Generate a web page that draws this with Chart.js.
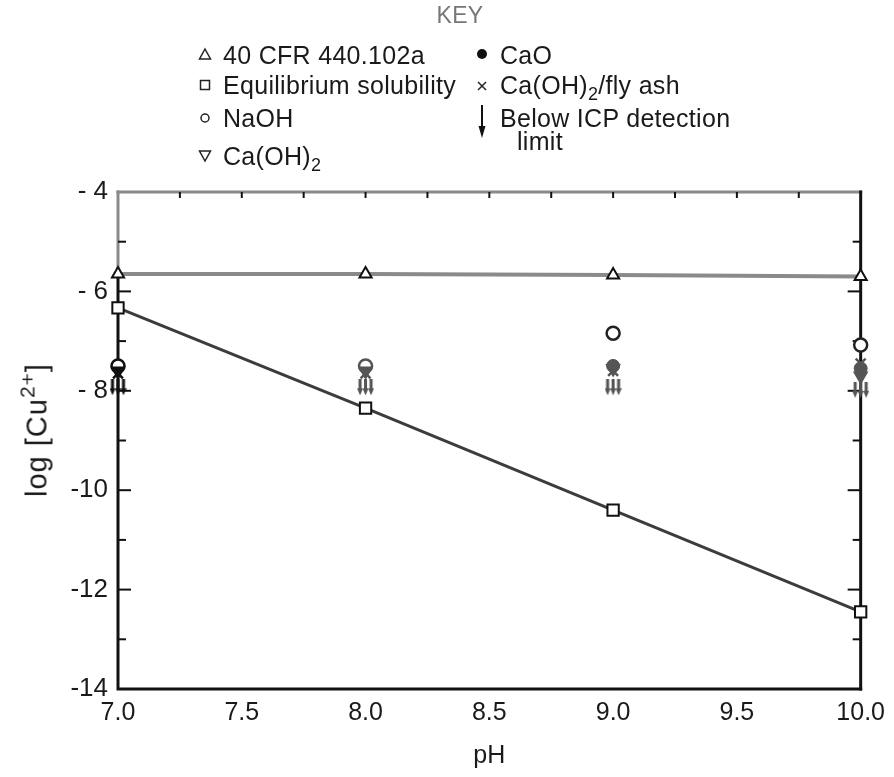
<!DOCTYPE html>
<html>
<head>
<meta charset="utf-8">
<script src="https://cdn.jsdelivr.net/npm/chart.js@4.4.0/dist/chart.umd.min.js"></script>
<style>
body { margin: 0; background: #fff; }
#wrap { position: relative; width: 894px; height: 777px; font-family: "Liberation Sans", Arial, sans-serif; color: #1a1a1a; }
#c { position: absolute; left: 0; top: 0; }
.t { position: absolute; font-size: 25px; line-height: 1; white-space: nowrap; letter-spacing: 0.3px; }
.t sub { font-size: 18px; vertical-align: -6px; line-height: 0; }
.s { position: absolute; }
#ytitle { position: absolute; left: 37px; top: 430px; font-size: 29px; line-height: 1; white-space: nowrap; letter-spacing: 1px;
  transform: translate(-50%, -50%) rotate(-90deg); }
#ytitle sup { font-size: 21px; vertical-align: 12px; line-height: 0; }
</style>
</head>
<body>
<div id="wrap">
  <canvas id="c" width="894" height="777"></canvas>

  <div class="t" style="left:460px;top:4px;transform:translateX(-50%);color:#777;font-size:23px">KEY</div>

  <svg class="s" style="left:198px;top:47px" width="14" height="14"><polygon points="7,2 12.5,12 1.5,12" fill="none" stroke="#222" stroke-width="1.5"/></svg>
  <div class="t" style="left:223px;top:43px">40 CFR 440.102a</div>
  <svg class="s" style="left:198px;top:78px" width="14" height="14"><rect x="2.5" y="2.5" width="9" height="9" fill="none" stroke="#222" stroke-width="1.5"/></svg>
  <div class="t" style="left:223px;top:73px">Equilibrium solubility</div>
  <svg class="s" style="left:198px;top:111px" width="14" height="14"><circle cx="7" cy="7" r="4" fill="none" stroke="#222" stroke-width="1.5"/></svg>
  <div class="t" style="left:223px;top:106px">NaOH</div>
  <svg class="s" style="left:198px;top:149px" width="14" height="14"><polygon points="1.5,2 12.5,2 7,12" fill="none" stroke="#222" stroke-width="1.5"/></svg>
  <div class="t" style="left:223px;top:144px">Ca(OH)<sub>2</sub></div>

  <svg class="s" style="left:475px;top:47px" width="14" height="14"><circle cx="7" cy="7" r="5" fill="#111"/></svg>
  <div class="t" style="left:500px;top:43px">CaO</div>
  <svg class="s" style="left:475px;top:79px" width="14" height="14"><path d="M3,3 L11,11 M11,3 L3,11" stroke="#222" stroke-width="1.5"/></svg>
  <div class="t" style="left:500px;top:73px">Ca(OH)<sub>2</sub>/fly ash</div>
  <svg class="s" style="left:475px;top:104px" width="14" height="36"><path d="M7,1 L7,26" stroke="#111" stroke-width="2"/><polygon points="3.5,22 10.5,22 7,34" fill="#111"/></svg>
  <div class="t" style="left:500px;top:106px">Below ICP detection</div>
  <div class="t" style="left:517px;top:129px">limit</div>

  <div id="ytitle">log [Cu<sup>2+</sup>]</div>
</div>

<script>
// pH values where samples were taken
var pH = [7.0, 8.0, 9.0, 10.0];

// log [Cu2+]
var cfrLimit = [-5.65, -5.65, -5.67, -5.70];
var equilibrium = [-6.33, -8.35, -10.40, -12.45];
var naoh = [-7.50, -7.50, -6.84, -7.08];
var caoh2 = [-7.60, -7.60, -7.55, -7.70];
var cao = [-7.50, -7.50, -7.50, -7.55];
var flyAsh = [-7.65, -7.65, -7.60, -7.45];
var belowLimit = [-7.93, -7.93, -7.93, -7.98];

var yTicks = [-4, -6, -8, -10, -12, -14];
var yTickLabels = ['- 4', '- 6', '- 8', '-10', '-12', '-14'];
var xTicks = [7.0, 7.5, 8.0, 8.5, 9.0, 9.5, 10.0];
var xTickLabels = ['7.0', '7.5', '8.0', '8.5', '9.0', '9.5', '10.0'];

function pts(ys) {
    return pH.map(function(x, i) { return { x: x, y: ys[i] }; });
}

// a small bundle of down arrows, as in the figure
function arrowsImg(color) {
    var c = document.createElement('canvas');
    c.width = 17; c.height = 16;
    var g = c.getContext('2d');
    g.strokeStyle = color; g.fillStyle = color; g.lineWidth = 3;
    [3, 8.5, 14].forEach(function(x) {
        g.beginPath(); g.moveTo(x, 0); g.lineTo(x, 11); g.stroke();
        g.beginPath(); g.moveTo(x - 3, 9); g.lineTo(x + 3, 9); g.lineTo(x, 16); g.closePath(); g.fill();
    });
    return c;
}
var arrowDark = arrowsImg('#111');
var arrowGray = arrowsImg('#555');
var clusterCol = ['#111', '#555', '#555', '#555'];

// frame with inward ticks
var frame = {
    id: 'frame',
    beforeDatasetsDraw: function(chart) {
        var a = chart.chartArea, g = chart.ctx;
        var xs = chart.scales.x, ys = chart.scales.y;
        g.save();
        g.lineCap = 'square';
        g.lineWidth = 3;
        g.strokeStyle = '#8a8a8a';
        g.beginPath(); g.moveTo(a.left, a.top); g.lineTo(a.right, a.top); g.stroke();
        g.beginPath(); g.moveTo(a.left, a.top); g.lineTo(a.left, ys.getPixelForValue(-5.6)); g.stroke();
        g.strokeStyle = '#111';
        g.beginPath(); g.moveTo(a.left, ys.getPixelForValue(-5.6)); g.lineTo(a.left, a.bottom); g.lineTo(a.right, a.bottom); g.stroke();
        g.beginPath(); g.moveTo(a.right, a.top); g.lineTo(a.right, a.bottom); g.stroke();
        g.lineWidth = 2;
        g.lineCap = 'butt';
        for (var v = -5; v >= -13; v--) {
            var py = ys.getPixelForValue(v);
            var len = (v % 2 === 0) ? 13 : 8;
            g.beginPath(); g.moveTo(a.left, py); g.lineTo(a.left + len, py); g.stroke();
            g.beginPath(); g.moveTo(a.right, py); g.lineTo(a.right - len, py); g.stroke();
        }
        for (var t = 7.25; t < 10; t += 0.25) {
            var px = xs.getPixelForValue(t);
            g.beginPath(); g.moveTo(px, a.top); g.lineTo(px, a.top + 6); g.stroke();
        }
        g.restore();
    }
};

var ctx = document.getElementById('c').getContext('2d');
var chart = new Chart(ctx, {
    type: 'scatter',
    data: {
        datasets: [
            {
                label: 'Below ICP detection limit', data: pts(belowLimit),
                pointStyle: [arrowDark, arrowGray, arrowGray, arrowGray], pointRadius: 8, showLine: false, clip: false
            },
            {
                label: 'Ca(OH)2/fly ash', data: pts(flyAsh), pointStyle: 'crossRot', pointRadius: 7,
                pointBorderColor: clusterCol, pointBorderWidth: 2.5, showLine: false, clip: false
            },
            {
                label: 'Ca(OH)2', data: pts(caoh2), pointStyle: 'triangle', rotation: 180, pointRadius: 7,
                pointBackgroundColor: clusterCol, pointBorderColor: clusterCol, pointBorderWidth: 2, showLine: false, clip: false
            },
            {
                label: 'NaOH', data: pts(naoh), pointStyle: 'circle', pointRadius: 6.5,
                pointBackgroundColor: '#fff', pointBorderColor: ['#111', '#555', '#222', '#222'], pointBorderWidth: 2.5,
                showLine: false, clip: false
            },
            {
                label: 'CaO', data: pts(cao), pointStyle: 'circle', pointRadius: 6.5,
                pointBackgroundColor: clusterCol, pointBorderColor: clusterCol, pointBorderWidth: 1, showLine: false, clip: false
            },
            {
                label: '40 CFR 440.102a', data: pts(cfrLimit), showLine: true,
                borderColor: '#8a8a8a', borderWidth: 4, pointStyle: 'triangle', pointRadius: 7,
                pointBackgroundColor: '#fff', pointBorderColor: '#111', pointBorderWidth: 2, clip: false
            },
            {
                label: 'Equilibrium solubility', data: pts(equilibrium), showLine: true,
                borderColor: '#3c3c3c', borderWidth: 3, pointStyle: 'rect', pointRadius: 8,
                pointBackgroundColor: '#fff', pointBorderColor: '#111', pointBorderWidth: 2, clip: false
            }
        ]
    },
    options: {
        responsive: false,
        animation: false,
        layout: { padding: { top: 192, right: 23, left: 0, bottom: 0 } },
        plugins: { legend: { display: false }, tooltip: { enabled: false } },
        scales: {
            x: {
                type: 'linear', min: 7, max: 10,
                afterBuildTicks: function(s) { s.ticks = xTicks.map(function(v) { return { value: v }; }); },
                afterFit: function(s) { s.height = 88; },
                ticks: {
                    callback: function(v) { return xTickLabels[xTicks.indexOf(v)]; },
                    font: { family: 'Liberation Sans', size: 25 }, color: '#1a1a1a', padding: 9, maxRotation: 0
                },
                grid: { display: false, drawTicks: false },
                border: { display: false },
                title: { display: true, text: 'pH', font: { family: 'Liberation Sans', size: 25 }, color: '#1a1a1a', padding: { top: 0, bottom: 6 } }
            },
            y: {
                type: 'linear', min: -14, max: -4,
                afterBuildTicks: function(s) { s.ticks = yTicks.map(function(v) { return { value: v }; }); },
                afterFit: function(s) { s.width = 118; },
                ticks: {
                    callback: function(v) { return yTickLabels[yTicks.indexOf(v)]; },
                    font: { family: 'Liberation Sans', size: 26 }, color: '#1a1a1a', padding: 10
                },
                grid: { display: false, drawTicks: false },
                border: { display: false }
            }
        }
    },
    plugins: [frame]
});
</script>
</body>
</html>
